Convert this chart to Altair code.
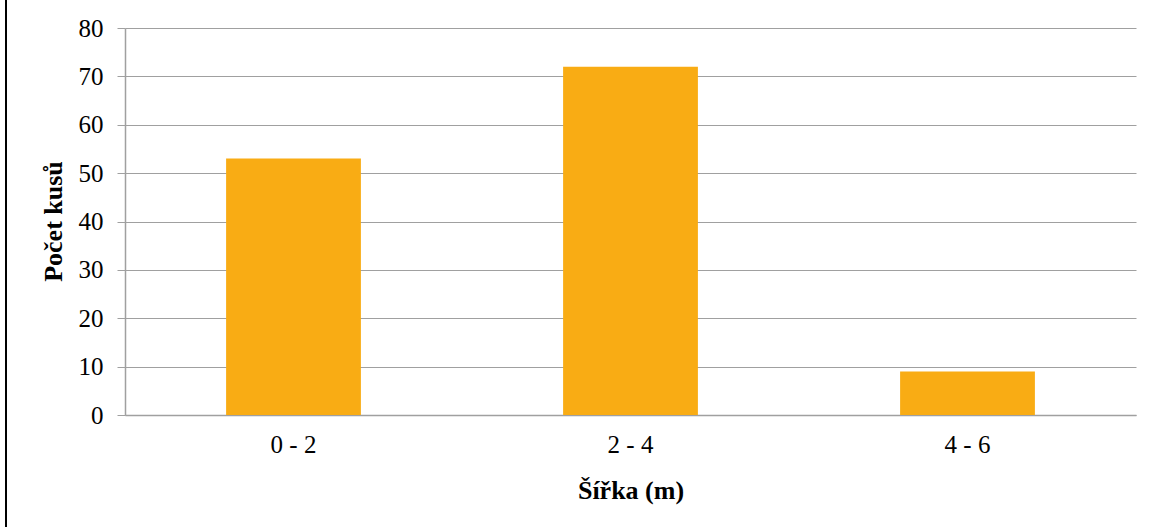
import altair as alt
import pandas as pd

categories = ["0 - 2", "2 - 4", "4 - 6"]
counts = [53, 72, 9]

df = pd.DataFrame({"cat": categories, "count": counts})

FONT = "Liberation Serif"
GRID = "#a0a0a0"

bars = alt.Chart(df).mark_bar(color="#F9AC14").encode(
    x=alt.X("cat:N", sort=categories,
            scale=alt.Scale(paddingInner=0.6, paddingOuter=0.3),
            axis=alt.Axis(title="Šířka (m)", labelAngle=0, ticks=False, tickSize=0,
                          labelFont=FONT, labelFontSize=25, labelColor="black",
                          labelBaseline="middle", labelPadding=29,
                          titleFont=FONT, titleFontSize=26, titleFontWeight="bold",
                          titleColor="black", titleBaseline="alphabetic", titleY=83,
                          domainColor=GRID, domainWidth=1.5)),
    y=alt.Y("count:Q", scale=alt.Scale(domain=[0, 80]),
            axis=alt.Axis(title="Počet kusů", values=list(range(0, 81, 10)),
                          grid=True, gridColor=GRID, gridWidth=1,
                          tickColor=GRID, tickSize=8, labelPadding=14,
                          labelFont=FONT, labelFontSize=25, labelColor="black",
                          titleFont=FONT, titleFontSize=26, titleFontWeight="bold",
                          titleColor="black", titleAngle=-90, titleBaseline="alphabetic",
                          titleX=-64, titleY=193, titleAlign="center",
                          domainColor=GRID, domainWidth=1.5)),
)

border = alt.Chart(df).mark_rule(color="black", strokeWidth=2, clip=False).encode(
    x=alt.value(-119), y=alt.value(-28), y2=alt.value(499)
)

chart = alt.layer(bars, border).properties(
    width=1011, height=387,
    autosize=alt.AutoSizeParams(type="none"),
    padding={"left": 125, "top": 28, "right": 19, "bottom": 112},
).configure_view(stroke=None).configure_axis(labelOverlap=False)

chart.save("out.html", embed_options={"renderer": "svg", "actions": False})
